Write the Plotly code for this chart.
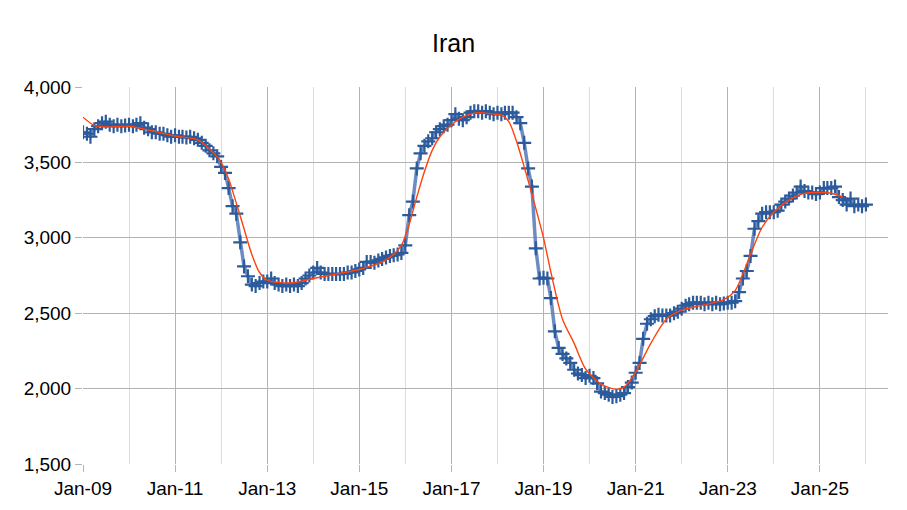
import plotly.graph_objects as go
import pandas as pd

# monthly production, Jan-09 .. Jan-26
y2009 = [3700, 3690, 3670, 3720, 3740, 3760, 3770, 3750, 3740, 3750, 3740, 3745]
y2010 = [3750, 3740, 3750, 3760, 3730, 3720, 3700, 3700, 3690, 3690, 3680, 3670]
y2011 = [3680, 3670, 3670, 3665, 3670, 3660, 3650, 3630, 3610, 3580, 3560, 3540]
y2012 = [3470, 3430, 3330, 3210, 3160, 2970, 2810, 2745, 2690, 2680, 2700, 2710]
y2013 = [2710, 2730, 2700, 2690, 2680, 2690, 2680, 2690, 2680, 2700, 2730, 2750]
y2014 = [2770, 2800, 2770, 2760, 2760, 2760, 2760, 2760, 2760, 2770, 2770, 2780]
y2015 = [2790, 2800, 2840, 2840, 2835, 2850, 2860, 2870, 2880, 2885, 2890, 2900]
y2016 = [2950, 3150, 3240, 3460, 3560, 3610, 3640, 3660, 3700, 3720, 3740, 3750]
y2017 = [3780, 3820, 3790, 3780, 3800, 3830, 3840, 3840, 3830, 3840, 3830, 3820]
y2018 = [3830, 3820, 3830, 3830, 3830, 3800, 3760, 3630, 3460, 3340, 2930, 2730]
y2019 = [2735, 2730, 2600, 2380, 2270, 2230, 2200, 2170, 2125, 2100, 2090, 2070]
y2020 = [2085, 2070, 2035, 1980, 1970, 1960, 1945, 1950, 1960, 1970, 2010, 2040]
y2021 = [2105, 2170, 2330, 2430, 2460, 2480, 2490, 2485, 2485, 2485, 2500, 2510]
y2022 = [2530, 2550, 2560, 2570, 2570, 2570, 2560, 2570, 2560, 2570, 2560, 2565]
y2023 = [2570, 2570, 2580, 2640, 2730, 2780, 2880, 3060, 3110, 3160, 3170, 3170]
y2024 = [3170, 3180, 3220, 3240, 3260, 3280, 3300, 3340, 3310, 3300, 3300, 3290]
y2025 = [3300, 3330, 3330, 3330, 3340, 3270, 3250, 3220, 3260, 3210, 3220, 3210]
y2026 = [3220]

production = (y2009 + y2010 + y2011 + y2012 + y2013 + y2014 + y2015 + y2016 + y2017
              + y2018 + y2019 + y2020 + y2021 + y2022 + y2023 + y2024 + y2025 + y2026)
months = pd.date_range("2009-01-01", periods=len(production), freq="MS")

# smoothed trend (red)
trend_dates = ["2009-01", "2009-04", "2009-07", "2010-01", "2010-07", "2011-01", "2011-07",
               "2011-10", "2012-01", "2012-03", "2012-05", "2012-07", "2012-09", "2012-11",
               "2013-01", "2013-07", "2014-01", "2014-07", "2015-01", "2015-07", "2015-10",
               "2015-12", "2016-02", "2016-04", "2016-06", "2016-08", "2016-10", "2017-01",
               "2017-04", "2017-08", "2017-12", "2018-02", "2018-04", "2018-06", "2018-08",
               "2018-10", "2019-01", "2019-03", "2019-06", "2019-09", "2019-12", "2020-04",
               "2020-08", "2020-10", "2021-01", "2021-05", "2021-09", "2022-01", "2022-06",
               "2022-12", "2023-03", "2023-05", "2023-07", "2023-10", "2024-01", "2024-05",
               "2024-09", "2025-01", "2025-04", "2025-07"]
trend_values = [3800, 3745, 3735, 3740, 3710, 3675, 3650,
                3590, 3500, 3390, 3230, 3060, 2890, 2770,
                2720, 2700, 2730, 2760, 2790, 2840, 2890,
                2950, 3090, 3270, 3440, 3580, 3670, 3750,
                3800, 3830, 3820, 3815, 3770, 3640, 3470,
                3290, 3000, 2770, 2460, 2300, 2130, 2030,
                1995, 2010, 2110, 2300, 2460, 2520, 2550,
                2590, 2650, 2760, 2890, 3070, 3170, 3250,
                3295, 3300, 3295, 3270]

major_years = list(range(2009, 2026, 2))
major_ticks = [f"{y}-01-01" for y in major_years]
major_labels = [f"Jan-{y % 100:02d}" for y in major_years]
minor_ticks = [f"{y}-01-01" for y in range(2010, 2027, 2)]

fig = go.Figure()
fig.add_trace(go.Scatter(
    x=months, y=production, mode="lines+markers",
    line=dict(color="rgba(84,120,186,0.85)", width=3.5),
    marker=dict(symbol="cross-thin", size=10, line=dict(color="#2c5b9c", width=2.2)),
    showlegend=False,
))
fig.add_trace(go.Scatter(
    x=pd.to_datetime(trend_dates), y=trend_values, mode="lines",
    line=dict(color="#ff420e", width=1.4, shape="spline", smoothing=0.8),
    showlegend=False,
))

# page body has an 8px margin, so the figure is sized to 891x494
fig.update_layout(
    width=891, height=494,
    paper_bgcolor="white", plot_bgcolor="white",
    margin=dict(l=75, r=11, t=79, b=38),
    font=dict(family="Liberation Sans, Arial, sans-serif", size=19, color="#000000"),
    title=dict(text="Iran", x=0.5, xref="container", xanchor="center",
               y=1 - 35 / 494, yref="container", yanchor="middle",
               font=dict(size=25, color="#000000")),
)
fig.update_xaxes(
    range=["2009-01-01", "2026-06-25"],
    tickvals=major_ticks, ticktext=major_labels,
    showgrid=True, gridcolor="#b3b3b3", gridwidth=1,
    ticks="outside", ticklen=7, tickcolor="#b3b3b3",
    minor=dict(tickvals=minor_ticks, showgrid=True, gridcolor="#dddddd", ticks=""),
    showline=False, zeroline=False, automargin=False,
)
fig.update_yaxes(
    range=[1500, 4000], dtick=500, tickformat=",d",
    showgrid=True, gridcolor="#b3b3b3", gridwidth=1,
    ticks="outside", ticklen=7, tickcolor="#b3b3b3",
    showline=False, zeroline=False, automargin=False,
)

fig.write_html("out.html")
